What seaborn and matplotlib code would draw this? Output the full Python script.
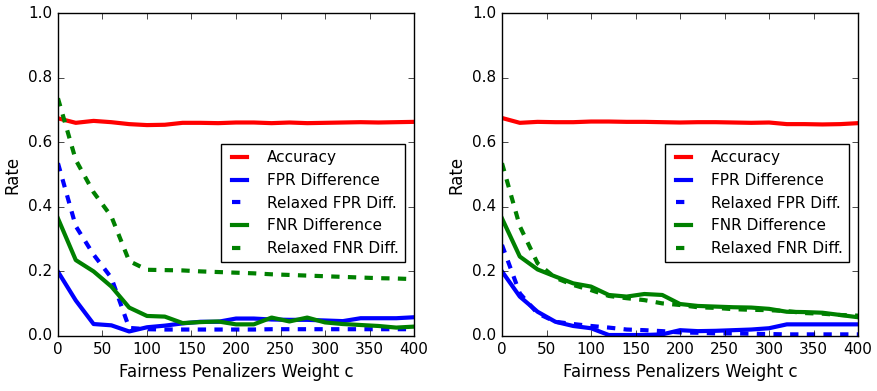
import numpy as np
import pandas as pd
import seaborn as sns
from matplotlib import pyplot as plt

# penalizer weights c
weights = list(range(0, 401, 20))

# left panel
left_acc = [0.674, 0.660, 0.666, 0.662, 0.656, 0.653, 0.654, 0.660, 0.660, 0.659, 0.661,
            0.661, 0.659, 0.661, 0.659, 0.660, 0.661, 0.662, 0.661, 0.662, 0.663]
left_fpr = [0.199, 0.110, 0.037, 0.033, 0.014, 0.027, 0.032, 0.039, 0.044, 0.044, 0.054,
            0.054, 0.051, 0.050, 0.050, 0.048, 0.046, 0.055, 0.055, 0.055, 0.058]
left_rfpr = [0.535, 0.340, 0.252, 0.180, 0.025, 0.021, 0.020, 0.020, 0.020, 0.020, 0.020,
             0.020, 0.021, 0.021, 0.021, 0.021, 0.021, 0.021, 0.021, 0.021, 0.021]
left_fnr = [0.364, 0.235, 0.200, 0.153, 0.088, 0.062, 0.060, 0.040, 0.043, 0.045, 0.036,
            0.036, 0.057, 0.045, 0.057, 0.042, 0.037, 0.034, 0.031, 0.026, 0.029]
left_rfnr = [0.736, 0.545, 0.445, 0.370, 0.232, 0.205, 0.204, 0.203, 0.200, 0.198, 0.196,
             0.194, 0.191, 0.189, 0.187, 0.185, 0.183, 0.181, 0.179, 0.178, 0.176]

# right panel
right_acc = [0.675, 0.660, 0.663, 0.662, 0.662, 0.664, 0.664, 0.663, 0.663, 0.662, 0.661,
             0.662, 0.662, 0.661, 0.660, 0.661, 0.656, 0.656, 0.655, 0.656, 0.659]
right_fpr = [0.200, 0.122, 0.075, 0.044, 0.031, 0.024, 0.003, 0.003, 0.003, 0.005, 0.018,
             0.015, 0.016, 0.018, 0.020, 0.024, 0.036, 0.036, 0.036, 0.036, 0.036]
right_rfpr = [0.282, 0.132, 0.070, 0.044, 0.037, 0.031, 0.026, 0.020, 0.018, 0.015, 0.011,
              0.010, 0.008, 0.008, 0.007, 0.006, 0.005, 0.005, 0.005, 0.005, 0.005]
right_fnr = [0.364, 0.246, 0.206, 0.184, 0.163, 0.153, 0.127, 0.122, 0.130, 0.127, 0.099,
             0.093, 0.091, 0.089, 0.088, 0.084, 0.075, 0.074, 0.072, 0.065, 0.058]
right_rfnr = [0.535, 0.340, 0.225, 0.180, 0.158, 0.142, 0.124, 0.117, 0.111, 0.101, 0.096,
              0.089, 0.087, 0.083, 0.081, 0.080, 0.077, 0.071, 0.069, 0.065, 0.063]

labels = ["Accuracy", "FPR Difference", "Relaxed FPR Diff.", "FNR Difference", "Relaxed FNR Diff."]
colors = ["r", "b", "b", "g", "g"]
styles = ["-", "-", "--", "-", "--"]


def draw_panel(ax, series):
    for vals, lab, col, ls in zip(series, labels, colors, styles):
        df = pd.DataFrame({"c": weights, "rate": vals})
        sns.lineplot(data=df, x="c", y="rate", ax=ax, color=col, linestyle=ls,
                     linewidth=3, label=lab)
    ax.set_xlim(0, 400)
    ax.set_ylim(0, 1)
    ax.set_xticks(np.arange(0, 401, 50))
    ax.set_yticks(np.arange(0, 1.01, 0.2))
    ax.set_xlabel("Fairness Penalizers Weight c", fontsize=12)
    ax.set_ylabel("Rate", fontsize=12)
    ax.tick_params(labelsize=11)
    ax.legend(loc="lower right", bbox_to_anchor=(0.975, 0.229), borderaxespad=0,
              fontsize=11, handlelength=1.6, handletextpad=1.0, labelspacing=0.5,
              borderpad=0.4, frameon=True, fancybox=False)


if __name__ == '__main__':
    plt.style.use('classic')
    plt.rcParams['font.family'] = ['DejaVu Sans']
    fig = plt.figure(figsize=(8.77, 3.91), dpi=100, facecolor='white')
    ax1 = fig.add_axes([0.0661, 0.1407, 0.406, 0.826])
    ax2 = fig.add_axes([0.5724, 0.1407, 0.406, 0.826])

    draw_panel(ax1, [left_acc, left_fpr, left_rfpr, left_fnr, left_rfnr])
    draw_panel(ax2, [right_acc, right_fpr, right_rfpr, right_fnr, right_rfnr])

    fig.savefig("out.png", dpi=100, facecolor='white')
